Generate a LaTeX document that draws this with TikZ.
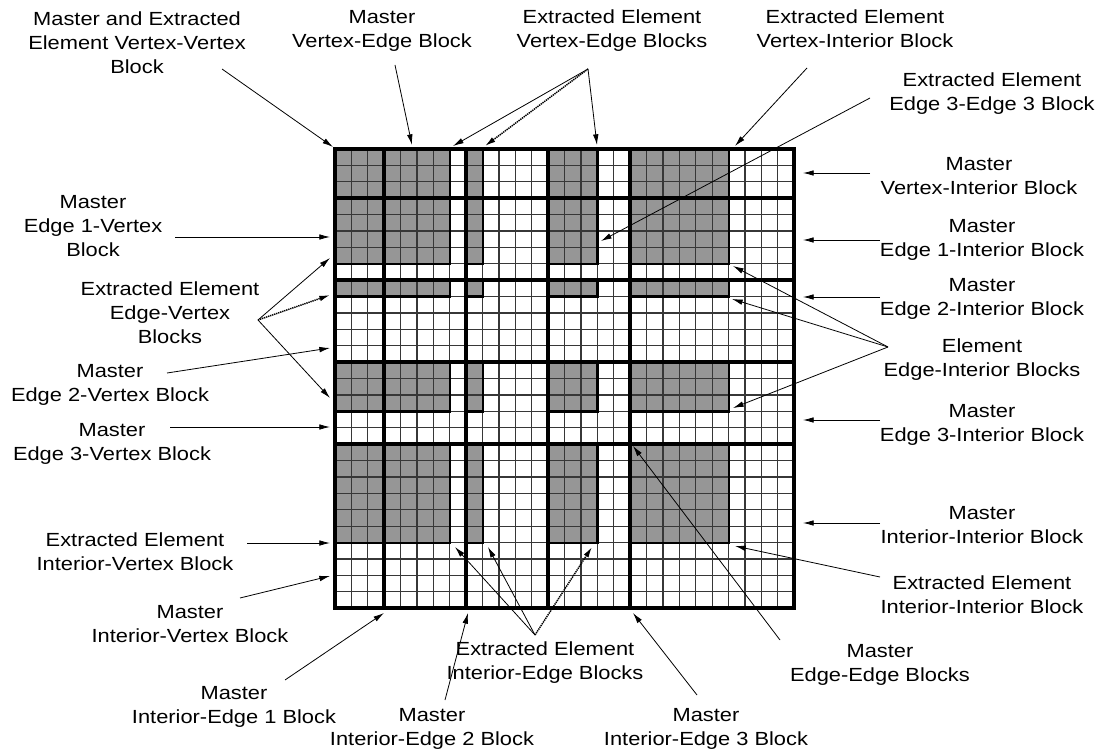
\documentclass[tikz,border=0pt]{standalone}
\usepackage{fontspec}
\setmainfont{Liberation Sans}[FakeStretch=1.15]
\usetikzlibrary{arrows.meta}
\definecolor{blockgray}{RGB}{150,150,150}
\definecolor{thinc}{RGB}{55,55,55}
\begin{document}
\begin{tikzpicture}[x=0.75pt,y=-0.75pt,
  lbl/.style={align=center, font=\fontsize{14.25pt}{18pt}\selectfont, inner sep=0pt},
  arr/.style={-{Latex[length=8pt,width=4.2pt]}, line width=0.6pt},
  hatch/.style={arr, line width=1.1pt, dash pattern=on 1pt off 0.6pt},
  thinline/.style={draw=thinc, line width=1pt},
  medline/.style={draw=black, line width=1.65pt},
  thickline/.style={draw=black, line width=3.2pt},
]
\useasboundingbox (0,0) rectangle (1104,756);
\fill[white] (0,0) rectangle (1104,756);
% shaded extracted-element blocks
\foreach \bx/\nx in {0/3,3/4,8/1,13/3,18/6}{
  \foreach \by/\ny in {0/3,3/4,8/1,13/3,18/6}{
    \fill[blockgray] ({335+16.4*\bx},{149+16.4*\by}) rectangle ({335+16.4*(\bx+\nx)},{149+16.4*(\by+\ny)});
  }}
% thin grid
\foreach \i in {1,...,27}{
  \draw[thinline] ({335+16.4*\i},149) -- ({335+16.4*\i},{149+16.4*28});
  \draw[thinline] (335,{149+16.4*\i}) -- ({335+16.4*28},{149+16.4*\i});
}
% outlines of shaded blocks
\foreach \bx/\nx in {0/3,3/4,8/1,13/3,18/6}{
  \foreach \by/\ny in {0/3,3/4,8/1,13/3,18/6}{
    \draw[medline] ({335+16.4*\bx},{149+16.4*\by}) rectangle ({335+16.4*(\bx+\nx)},{149+16.4*(\by+\ny)});
  }}
% master block boundaries
\foreach \i in {3,8,13,18}{
  \draw[thickline] ({335+16.4*\i},149) -- ({335+16.4*\i},{149+16.4*28});
  \draw[thickline] (335,{149+16.4*\i}) -- ({335+16.4*28},{149+16.4*\i});
}
\draw[thickline] (335,149) rectangle ({335+16.4*28},{149+16.4*28});

% labels
\node[lbl] (lA) at (137,43) {Master and Extracted\\Element Vertex-Vertex\\Block};
\node[lbl] (lB) at (382,31) {Master\\Vertex-Edge Block};
\node[lbl] (lC) at (612,31) {Extracted Element\\Vertex-Edge Blocks};
\node[lbl] (lD) at (855,29) {Extracted Element\\Vertex-Interior Block};
\node[lbl] (lE) at (992,94) {Extracted Element\\Edge 3-Edge 3 Block};
\node[lbl] (lF) at (979,176) {Master\\Vertex-Interior Block};
\node[lbl] (lG) at (93,226) {Master\\Edge 1-Vertex\\Block};
\node[lbl] (lH) at (170,313) {Extracted Element\\Edge-Vertex\\Blocks};
\node[lbl] (lI) at (110,385) {Master\\Edge 2-Vertex Block};
\node[lbl] (lJ) at (112,444) {Master\\Edge 3-Vertex Block};
\node[lbl] (lK) at (982,240) {Master\\Edge 1-Interior Block};
\node[lbl] (lL) at (982,299) {Master\\Edge 2-Interior Block};
\node[lbl] (lM) at (982,360) {Element\\Edge-Interior Blocks};
\node[lbl] (lN) at (982,425) {Master\\Edge 3-Interior Block};
\node[lbl] (lO) at (982,525) {Master\\Interior-Interior Block};
\node[lbl] (lP) at (982,595) {Extracted Element\\Interior-Interior Block};
\node[lbl] (lQ) at (880,665) {Master\\Edge-Edge Blocks};
\node[lbl] (lR) at (545,663) {Extracted Element\\Interior-Edge Blocks};
\node[lbl] (lS) at (234,707) {Master\\Interior-Edge 1 Block};
\node[lbl] (lT) at (190,624) {Master\\Interior-Vertex Block};
\node[lbl] (lU) at (135,552) {Extracted Element\\Interior-Vertex Block};
\node[lbl] (lV) at (432,729) {Master\\Interior-Edge 2 Block};
\node[lbl] (lW) at (706,729) {Master\\Interior-Edge 3 Block};

% arrow end points
\coordinate (sA) at (222,69);  \coordinate (tA) at (333,147);
\coordinate (sB) at (395,65);  \coordinate (tB) at (412,145);
\coordinate (sC) at (588,69);  \coordinate (tC1) at (453,146); \coordinate (tC2) at (485,146); \coordinate (tC3) at (597,145);
\coordinate (sD) at (807,68);  \coordinate (tD) at (735,146);
\coordinate (sE) at (870,98);  \coordinate (tE) at (601,241);
\coordinate (sF) at (870,173); \coordinate (tF) at (803,173);
\coordinate (sG) at (175,237); \coordinate (tG) at (330,237);
\coordinate (sH) at (258,320); \coordinate (tH1) at (330,258); \coordinate (tH2) at (330,295); \coordinate (tH3) at (330,398);
\coordinate (sI) at (167,373); \coordinate (tI) at (330,348);
\coordinate (sJ) at (170,427); \coordinate (tJ) at (330,427);
\coordinate (sK) at (880,240); \coordinate (tK) at (803,240);
\coordinate (sL) at (880,297); \coordinate (tL) at (803,297);
\coordinate (sM) at (888,347); \coordinate (tM1) at (733,266); \coordinate (tM2) at (732,299); \coordinate (tM3) at (733,408);
\coordinate (sN) at (880,420); \coordinate (tN) at (803,420);
\coordinate (sO) at (880,523); \coordinate (tO) at (803,523);
\coordinate (sP) at (880,577); \coordinate (tP) at (735,546);
\coordinate (sQ) at (780,640); \coordinate (tQ) at (633,446);
\coordinate (sR) at (535,635); \coordinate (tR1) at (455,547); \coordinate (tR2) at (488,547); \coordinate (tR3) at (592,547);
\coordinate (sS) at (285,680); \coordinate (tS) at (384,613);
\coordinate (sT) at (240,598); \coordinate (tT) at (330,576);
\coordinate (sU) at (247,543); \coordinate (tU) at (330,543);
\coordinate (sV) at (445,700); \coordinate (tV) at (468,613);
\coordinate (sW) at (697,695); \coordinate (tW) at (633,613);

% arrows
\draw[arr] (sA) -- (tA);
\draw[arr] (sB) -- (tB);
\draw[arr] (sC) -- (tC1);
\draw[hatch] (sC) -- (tC2);
\draw[arr] (sC) -- (tC3);
\draw[arr] (sD) -- (tD);
\draw[arr] (sE) -- (tE);
\draw[arr] (sF) -- (tF);
\draw[arr] (sG) -- (tG);
\draw[arr] (sH) -- (tH1);
\draw[hatch] (sH) -- (tH2);
\draw[arr] (sH) -- (tH3);
\draw[arr] (sI) -- (tI);
\draw[arr] (sJ) -- (tJ);
\draw[arr] (sK) -- (tK);
\draw[arr] (sL) -- (tL);
\draw[arr] (sM) -- (tM1);
\draw[arr] (sM) -- (tM2);
\draw[arr] (sM) -- (tM3);
\draw[arr] (sN) -- (tN);
\draw[arr] (sO) -- (tO);
\draw[arr] (sP) -- (tP);
\draw[arr] (sQ) -- (tQ);
\draw[arr] (sR) -- (tR1);
\draw[arr] (sR) -- (tR2);
\draw[hatch] (sR) -- (tR3);
\draw[arr] (sS) -- (tS);
\draw[arr] (sT) -- (tT);
\draw[arr] (sU) -- (tU);
\draw[arr] (sV) -- (tV);
\draw[arr] (sW) -- (tW);
\end{tikzpicture}
\end{document}
